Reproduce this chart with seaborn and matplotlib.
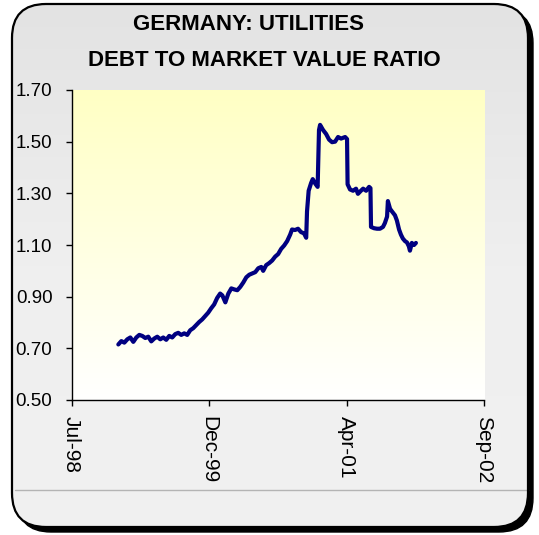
import numpy as np
import pandas as pd
import matplotlib
matplotlib.use("Agg")
import matplotlib.pyplot as plt
from matplotlib.patches import FancyBboxPatch
from matplotlib.colors import LinearSegmentedColormap
import seaborn as sns

# ---- data ----
title_lines = ["GERMANY: UTILITIES", "DEBT TO MARKET VALUE RATIO"]

dates = [
    "1999-01-03", "1999-01-14", "1999-01-25", "1999-02-05", "1999-02-16", "1999-02-27",
    "1999-03-10", "1999-03-21", "1999-04-01", "1999-04-12", "1999-04-23", "1999-05-04",
    "1999-05-15", "1999-05-26", "1999-06-06", "1999-06-17", "1999-06-28", "1999-07-09",
    "1999-07-20", "1999-07-31", "1999-08-11", "1999-08-22", "1999-09-02", "1999-09-13",
    "1999-09-24", "1999-10-05", "1999-10-16", "1999-10-27", "1999-11-07", "1999-11-18",
    "1999-11-29", "1999-12-10", "1999-12-21", "2000-01-01", "2000-01-12", "2000-01-20",
    "2000-01-31", "2000-02-11", "2000-02-22", "2000-03-04", "2000-03-15", "2000-03-26",
    "2000-04-06", "2000-04-17", "2000-04-28", "2000-05-09", "2000-05-20", "2000-05-31",
    "2000-06-11", "2000-06-18", "2000-06-29", "2000-07-10", "2000-07-21", "2000-08-01",
    "2000-08-12", "2000-08-23", "2000-09-03", "2000-09-14", "2000-09-25", "2000-10-02",
    "2000-10-13", "2000-10-24", "2000-11-04", "2000-11-15", "2000-11-23", "2000-11-26",
    "2000-12-02", "2000-12-11", "2000-12-17", "2000-12-26", "2001-01-04", "2001-01-09",
    "2001-01-13", "2001-01-24", "2001-02-04", "2001-02-15", "2001-02-26", "2001-03-09",
    "2001-03-20", "2001-03-31", "2001-04-15", "2001-04-22", "2001-04-24", "2001-05-03",
    "2001-05-14", "2001-05-25", "2001-06-01", "2001-06-12", "2001-06-20", "2001-07-01",
    "2001-07-12", "2001-07-17", "2001-07-19", "2001-07-30", "2001-08-10", "2001-08-21",
    "2001-09-01", "2001-09-08", "2001-09-16", "2001-09-19", "2001-09-27", "2001-10-04",
    "2001-10-15", "2001-10-22", "2001-10-30", "2001-11-06", "2001-11-13", "2001-11-21",
    "2001-11-28", "2001-12-05", "2001-12-09", "2001-12-16", "2001-12-24", "2001-12-31",
]
ratio = [
    0.715, 0.728, 0.722, 0.735, 0.742, 0.725,
    0.742, 0.752, 0.748, 0.740, 0.745, 0.727,
    0.738, 0.745, 0.735, 0.742, 0.733, 0.748,
    0.742, 0.755, 0.760, 0.752, 0.758, 0.752,
    0.770, 0.778, 0.790, 0.802, 0.812, 0.825,
    0.838, 0.855, 0.870, 0.895, 0.912, 0.905,
    0.878, 0.912, 0.932, 0.928, 0.925, 0.938,
    0.955, 0.975, 0.985, 0.990, 0.995, 1.010,
    1.015, 1.000, 1.022, 1.030, 1.040, 1.055,
    1.065, 1.085, 1.098, 1.115, 1.140, 1.160,
    1.158, 1.163, 1.150, 1.145, 1.128, 1.230,
    1.310, 1.340, 1.355, 1.338, 1.325, 1.545,
    1.565, 1.545, 1.530, 1.508, 1.498, 1.500,
    1.518, 1.512, 1.518, 1.510, 1.335, 1.315,
    1.310, 1.318, 1.298, 1.310, 1.318, 1.310,
    1.325, 1.320, 1.170, 1.165, 1.163, 1.163,
    1.170, 1.185, 1.210, 1.270, 1.240, 1.230,
    1.215, 1.195, 1.160, 1.140, 1.125, 1.115,
    1.110, 1.095, 1.078, 1.108, 1.100, 1.108,
]
y_ticks = [0.50, 0.70, 0.90, 1.10, 1.30, 1.50, 1.70]
x_tick_dates = ["1998-07-15", "1999-12-02", "2001-04-20", "2002-09-07"]

df = pd.DataFrame({"date": pd.to_datetime(dates), "ratio": ratio})
xt = pd.to_datetime(x_tick_dates)

# ---- style ----
sns.set_theme(style="white")
plt.rcParams["font.family"] = ["Liberation Sans", "DejaVu Sans"]

W, H = 539, 535
fig = plt.figure(figsize=(W / 100, H / 100), dpi=100, facecolor="white")

# background panel in pixel coordinates
bg = fig.add_axes([0, 0, 1, 1], zorder=0)
bg.set_xlim(0, W)
bg.set_ylim(0, H)
bg.axis("off")

fx, fy, fw, fh = 12, 8, 516, 523
box = dict(boxstyle="round,pad=0,rounding_size=34")
shadow = FancyBboxPatch((fx + 5, fy - 5), fw, fh, fc="black", ec="black", lw=1, **box)
bg.add_patch(shadow)
panel = FancyBboxPatch((fx, fy), fw, fh, fc="#efefef", ec="none", **box)
bg.add_patch(panel)
gray_cmap = LinearSegmentedColormap.from_list("panel", ["#f1f1f1", "#efefef", "#e3e3e3"])
gimg = bg.imshow(np.linspace(0, 1, 256).reshape(-1, 1), cmap=gray_cmap, aspect="auto",
                 origin="lower", extent=(fx, fx + fw, fy, fy + fh), zorder=1)
gimg.set_clip_path(panel)
border = FancyBboxPatch((fx, fy), fw, fh, fc="none", ec="black", lw=1.6, zorder=3, **box)
bg.add_patch(border)
bg.plot([15, 528], [45, 45], color="#b4b4b4", lw=1, zorder=2)

# plot-area gradient (white at bottom, pale yellow at top)
ax_l, ax_b, ax_w, ax_h = 71.5, 135, 412.5, 310
yel_cmap = LinearSegmentedColormap.from_list("area", ["#ffffff", "#ffffc4"])
bg.imshow(np.linspace(0, 1, 256).reshape(-1, 1), cmap=yel_cmap, aspect="auto",
          origin="lower", extent=(ax_l, ax_l + ax_w, ax_b, ax_b + ax_h), zorder=2)
bg.set_xlim(0, W)
bg.set_ylim(0, H)

# titles
fig.text(248.5 / W, 1 - 25 / H, title_lines[0], ha="center", va="center",
         fontsize=16, fontweight="bold", color="black")
fig.text(264.5 / W, 1 - 60.5 / H, title_lines[1], ha="center", va="center",
         fontsize=16, fontweight="bold", color="black")

# main chart
ax = fig.add_axes([ax_l / W, ax_b / H, ax_w / W, ax_h / H], zorder=2)
ax.patch.set_alpha(0)
sns.lineplot(data=df, x="date", y="ratio", color="#000080", linewidth=3.0, ax=ax)

ax.set_xlim(xt[0], xt[-1])
ax.set_ylim(0.50, 1.70)
ax.set_yticks(y_ticks)
ax.set_yticklabels([f"{v:.2f}" for v in y_ticks], fontsize=13.5)
ax.set_xticks(xt)
ax.set_xticklabels([d.strftime("%b-%y") for d in xt], fontsize=15,
                   rotation=-90, ha="center", va="top")
ax.set_xlabel("")
ax.set_ylabel("")
sns.despine(ax=ax)
for s in ("left", "bottom"):
    ax.spines[s].set_color("black")
    ax.spines[s].set_linewidth(1)
ax.tick_params(axis="y", direction="out", length=4.3, width=1, color="black", pad=9.4,
               left=True, labelcolor="black")
ax.tick_params(axis="x", direction="out", length=4.3, width=1, color="black", pad=7.5,
               bottom=True, labelcolor="black")
ax.grid(False)

fig.savefig("out.png", dpi=100, facecolor="white")
